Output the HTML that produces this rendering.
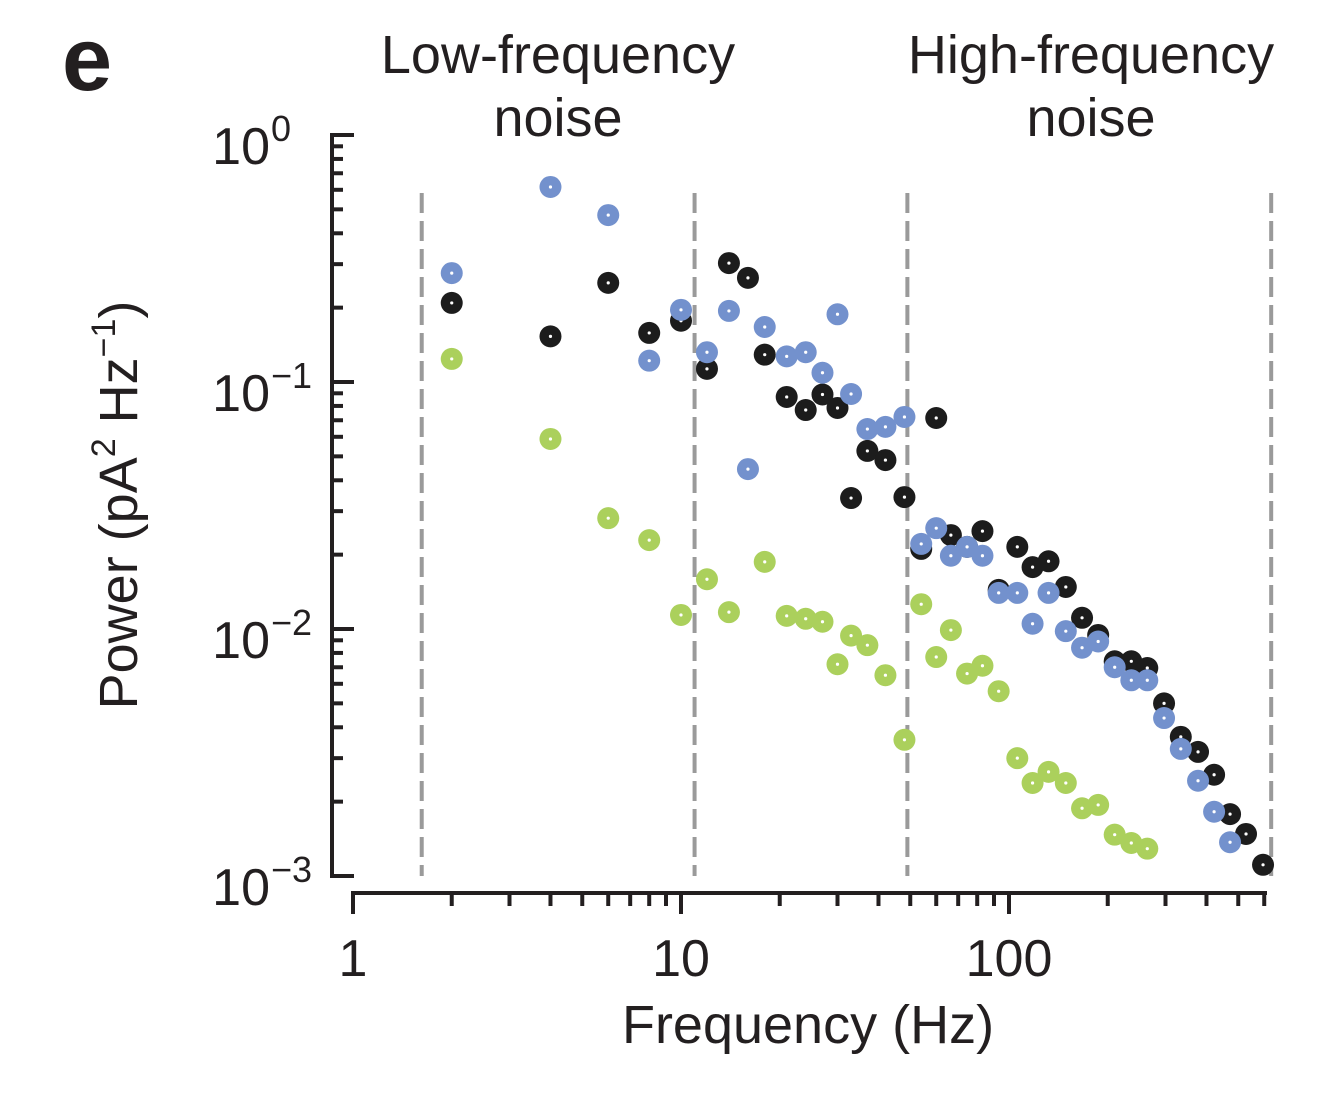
<!DOCTYPE html>
<html><head><meta charset="utf-8"><style>
html,body{margin:0;padding:0;background:#fff;}
svg{display:block;font-family:"Liberation Sans",Arial,sans-serif;}
</style></head><body>
<svg id="chart" width="1329" height="1109" viewBox="0 0 1329 1109">
<text x="62" y="90" font-size="90" font-weight="bold" fill="#231f20">e</text>
<text x="558" y="73" font-size="54" text-anchor="middle" fill="#231f20">Low-frequency</text>
<text x="558" y="136" font-size="54" text-anchor="middle" fill="#231f20">noise</text>
<text x="1091" y="73" font-size="54" text-anchor="middle" fill="#231f20">High-frequency</text>
<text x="1091" y="136" font-size="54" text-anchor="middle" fill="#231f20">noise</text>
<text x="808" y="1043" font-size="54" text-anchor="middle" fill="#231f20">Frequency (Hz)</text>
<text transform="translate(137,505) rotate(-90)" font-size="54" text-anchor="middle" fill="#231f20">Power (pA<tspan font-size="34" dy="-22">2</tspan><tspan dy="22"> Hz</tspan><tspan font-size="34" dy="-22">−1</tspan><tspan dy="22">)</tspan></text>
<g id="axes"></g>
<g id="dashes"></g>
<g id="marks"></g>
</svg>
<script>
const freqs=[2,4,6,8,10,12,14,16,18,21,24,27,30,33,37,42,48,54,60,66.5,74.5,83,93,106,118,132,149,167,187,210,236,264,297,334,377,422,472,528,595];
const blackPower=[0.209,0.153,0.252,0.158,0.177,0.113,0.303,0.264,0.129,0.087,0.077,0.089,0.0785,0.0339,0.0526,0.0483,0.0342,0.0211,0.0715,0.024,0.0215,0.0249,0.0144,0.0215,0.0178,0.0188,0.0148,0.0111,0.00946,0.0074,0.0074,0.00695,0.0050,0.00366,0.00318,0.00257,0.00178,0.00148,0.00111];
const blueFreqs=[2,4,6,8,10,12,14,16,18,21,24,27,30,33,37,42,48,54,60,66.5,74.5,83,93,106,118,132,149,167,187,210,236,264,297,334,377,422,472];
const bluePower=[0.276,0.616,0.474,0.122,0.196,0.132,0.194,0.0444,0.167,0.127,0.132,0.109,0.188,0.0894,0.0645,0.0658,0.0722,0.0221,0.0256,0.0198,0.0215,0.0198,0.0140,0.0140,0.0105,0.0140,0.0098,0.0084,0.0089,0.0070,0.0062,0.0062,0.00436,0.00327,0.00243,0.00182,0.00137];
const greenFreqs=[2,4,6,8,10,12,14,18,21,24,27,30,33,37,42,48,54,60,66.5,74.5,83,93,106,118,132,149,167,187,210,236,264];
const greenPower=[0.124,0.0588,0.0281,0.0229,0.0114,0.0159,0.0117,0.0187,0.0113,0.011,0.0107,0.0072,0.0094,0.0086,0.0065,0.00356,0.0126,0.0077,0.0099,0.0066,0.0071,0.0056,0.0030,0.00238,0.00264,0.00238,0.00188,0.00194,0.00147,0.00136,0.00129];
const xTickLabels=["1","10","100"];
const yExps=[0,-1,-2,-3];
const dashFreqs=[1.62,11,49,630];

const NS="http://www.w3.org/2000/svg";
const X=f=>353+328*Math.log10(f);
const Y=p=>135-247*Math.log10(p);
function mk(tag,attrs,parent){const e=document.createElementNS(NS,tag);for(const k in attrs)e.setAttribute(k,attrs[k]);parent.appendChild(e);return e;}
const axes=document.getElementById('axes');
const ink="#231f20";
let e=mk('line',{x1:332,y1:133,x2:332,y2:878,stroke:ink,'stroke-width':4},axes);


e=mk('line',{x1:351,y1:893,x2:1267,y2:893,stroke:ink,'stroke-width':4},axes);


for(let d=0;d<3;d++){for(let m=1;m<=9;m++){const f=Math.pow(10,d)*m;if(f>600)break;const x=X(f);
 e=mk('line',{x1:x,y1:893,x2:x,y2:m==1?914:906,stroke:ink,'stroke-width':4},axes);
 
 }}
xTickLabels.forEach((t,i)=>{e=mk('text',{x:X(Math.pow(10,i)),y:976,'font-size':52,'text-anchor':'middle',fill:ink},axes);e.textContent=t;
 
 });
yExps.forEach((ex,i)=>{
 const y=Y(Math.pow(10,ex));
 e=mk('line',{x1:332,y1:y,x2:354,y2:y,stroke:ink,'stroke-width':4},axes);
 
 
 e=mk('text',{x:270,y:y+29,'font-size':52,'text-anchor':'end',fill:ink},axes);
 e.textContent="10";
 
 
 const s=mk('text',{x:271,y:y+6,'font-size':36,fill:ink},axes);s.textContent=ex==0?"0":"−"+(-ex);
 if(ex>-3){for(let m=2;m<=9;m++){const yy=Y(Math.pow(10,ex-1)*m);
  e=mk('line',{x1:332,y1:yy,x2:343,y2:yy,stroke:ink,'stroke-width':4},axes);
  
  }}
});
const dashes=document.getElementById('dashes');
dashFreqs.forEach(f=>{const x=X(f);
 e=mk('line',{x1:x,y1:193,x2:x,y2:876,stroke:"#9a9a9a",'stroke-width':4,'stroke-dasharray':'20 8'},dashes);
 
 });
const marks=document.getElementById('marks');
function series(fs,ps,col,name){fs.forEach((f,i)=>{
 const g=mk('g',{},marks);
 
 
 mk('circle',{cx:X(f),cy:Y(ps[i]),r:11,fill:col},g);
 mk('circle',{cx:X(f),cy:Y(ps[i]),r:1.6,fill:"#fff"},g);});}
series(freqs,blackPower,"#1c1c1c","black-series");
series(blueFreqs,bluePower,"#7391cd","blue-series");
series(greenFreqs,greenPower,"#abd05c","green-series");
</script>
</body></html>
